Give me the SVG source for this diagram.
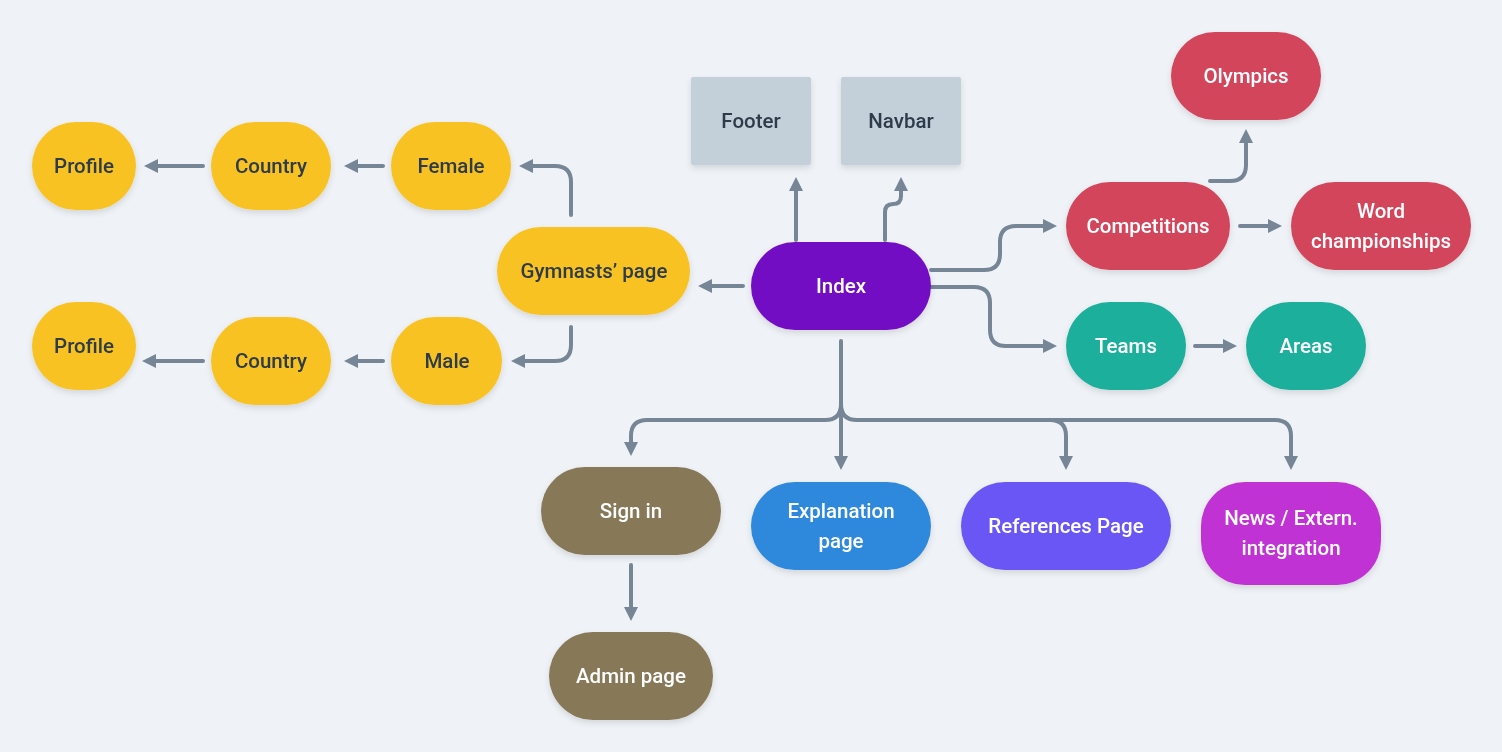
<svg xmlns="http://www.w3.org/2000/svg" width="1502" height="752" viewBox="0 0 1502 752">
  <defs>
    <filter id="shadow" x="-20%" y="-20%" width="140%" height="150%">
      <feDropShadow dx="0" dy="3" stdDeviation="3" flood-color="#000" flood-opacity="0.12"/>
    </filter>
    <marker id="arrow" viewBox="0 0 10 10" refX="5" refY="5" markerWidth="3.5" markerHeight="3.5" orient="auto" markerUnits="strokeWidth">
      <path d="M0,0 L10,5 L0,10 z" fill="#768696"/>
    </marker>
  </defs>
  <style>
    .node { filter: url(#shadow); }
    .pill { rx: 44px; ry: 44px; }
    .yellow { fill: #F8C322; }
    .red { fill: #D3445A; }
    .teal { fill: #1BAF9C; }
    .brown { fill: #877859; }
    .blue { fill: #2D88DB; }
    .violet { fill: #6A57F5; }
    .magenta { fill: #C033D3; }
    .purple { fill: #7210C4; }
    .grey { fill: #C3D0DA; }
    text { font-family: Roboto, "Liberation Sans", sans-serif; font-weight: 500; font-size: 20.5px; text-anchor: middle; dominant-baseline: central; }
    .dark { fill: #2D3A4A; }
    .light { fill: #FFFFFF; }
    .edges path { fill: none; stroke: #768696; stroke-width: 4; stroke-linecap: round; stroke-linejoin: round; marker-end: url(#arrow); }
  </style>

  <rect width="1502" height="752" fill="#EFF3F7"/>

  <g class="edges" id="connectors">
    <path d="M571,215 V182 Q571,166 555,166 H526"/>
    <path d="M571,327 V345 Q571,361 555,361 H518"/>
    <path d="M383,166 H351"/>
    <path d="M203,166 H151"/>
    <path d="M383,361 H351"/>
    <path d="M203,361 H149"/>
    <path d="M743,286 H705"/>
    <path d="M796,240 V184"/>
    <path d="M885,240 V212 Q885,204 893,204 Q901,204 901,196 V184"/>
    <path d="M931,270 H984 Q1000,270 1000,254 V242 Q1000,226 1016,226 H1050"/>
    <path d="M931,287 H974 Q990,287 990,303 V330 Q990,346 1006,346 H1050"/>
    <path d="M1210,181 H1230 Q1246,181 1246,165 V136"/>
    <path d="M1240,226 H1275"/>
    <path d="M1195,346 H1230"/>
    <path d="M841,341 V404 Q841,420 825,420 H647 Q631,420 631,436 V449"/>
    <path d="M841,404 V463"/>
    <path d="M841,404 Q841,420 857,420 H1050 Q1066,420 1066,436 V463"/>
    <path d="M1050,420 H1275 Q1291,420 1291,436 V463"/>
    <path d="M631,565 V614"/>
  </g>

  <g id="profile-f" class="node"><rect class="pill yellow" x="32" y="122" width="104" height="88"/><text class="dark" x="84" y="166">Profile</text></g>
  <g id="country-f" class="node"><rect class="pill yellow" x="211" y="122" width="120" height="88"/><text class="dark" x="271" y="166">Country</text></g>
  <g id="female" class="node"><rect class="pill yellow" x="391" y="122" width="120" height="88"/><text class="dark" x="451" y="166">Female</text></g>
  <g id="gymnasts" class="node"><rect class="pill yellow" x="497" y="227" width="193" height="88"/><text class="dark" x="594" y="271">Gymnasts’ page</text></g>
  <g id="profile-m" class="node"><rect class="pill yellow" x="32" y="302" width="104" height="88"/><text class="dark" x="84" y="346">Profile</text></g>
  <g id="country-m" class="node"><rect class="pill yellow" x="211" y="317" width="120" height="88"/><text class="dark" x="271" y="361">Country</text></g>
  <g id="male" class="node"><rect class="pill yellow" x="391" y="317" width="111" height="88"/><text class="dark" x="447" y="361">Male</text></g>

  <g id="footer" class="node"><rect class="grey" x="691" y="77" width="120" height="88" rx="2"/><text class="dark" x="751" y="121">Footer</text></g>
  <g id="navbar" class="node"><rect class="grey" x="841" y="77" width="120" height="88" rx="2"/><text class="dark" x="901" y="121">Navbar</text></g>

  <g id="index" class="node"><rect class="pill purple" x="751" y="242" width="180" height="88"/><text class="light" x="841" y="286">Index</text></g>

  <g id="olympics" class="node"><rect class="pill red" x="1171" y="32" width="150" height="88"/><text class="light" x="1246" y="76">Olympics</text></g>
  <g id="competitions" class="node"><rect class="pill red" x="1066" y="182" width="164" height="88"/><text class="light" x="1148" y="226">Competitions</text></g>
  <g id="word-championships" class="node"><rect class="pill red" x="1291" y="182" width="180" height="88"/><text class="light" x="1381" y="211">Word</text><text class="light" x="1381" y="241">championships</text></g>

  <g id="teams" class="node"><rect class="pill teal" x="1066" y="302" width="120" height="88"/><text class="light" x="1126" y="346">Teams</text></g>
  <g id="areas" class="node"><rect class="pill teal" x="1246" y="302" width="120" height="88"/><text class="light" x="1306" y="346">Areas</text></g>

  <g id="sign-in" class="node"><rect class="pill brown" x="541" y="467" width="180" height="88"/><text class="light" x="631" y="511">Sign in</text></g>
  <g id="admin-page" class="node"><rect class="pill brown" x="549" y="632" width="164" height="88"/><text class="light" x="631" y="676">Admin page</text></g>
  <g id="explanation" class="node"><rect class="pill blue" x="751" y="482" width="180" height="88"/><text class="light" x="841" y="511">Explanation</text><text class="light" x="841" y="541">page</text></g>
  <g id="references" class="node"><rect class="pill violet" x="961" y="482" width="210" height="88"/><text class="light" x="1066" y="526">References Page</text></g>
  <g id="news" class="node"><rect class="pill magenta" x="1201" y="482" width="180" height="103"/><text class="light" x="1291" y="518">News / Extern.</text><text class="light" x="1291" y="548">integration</text></g>
</svg>
